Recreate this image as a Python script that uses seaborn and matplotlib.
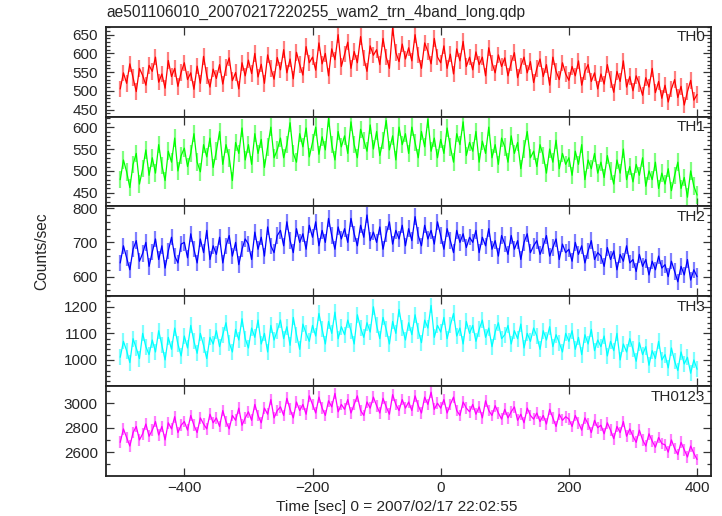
import numpy as np
import matplotlib
matplotlib.use("Agg")
import matplotlib.pyplot as plt
import seaborn as sns
from matplotlib.ticker import MultipleLocator

# Light curve data, 5 s bins from -500 s to 400 s
TIME = np.arange(-500, 401, 5)

TH0 = [
    505, 548, 520, 572, 535, 498, 560, 541, 515, 568,
    552, 590, 523, 545, 507, 581, 538, 560, 512, 549,
    575, 530, 548, 504, 566, 520, 592, 541, 510, 558,
    533, 570, 518, 562, 588, 527, 549, 505, 575, 540,
    582, 546, 600, 537, 571, 520, 596, 560, 531, 589,
    556, 610, 548, 585, 532, 603, 570, 542, 618, 575,
    590, 555, 628, 572, 600, 540, 612, 583, 650, 565,
    598, 630, 560, 605, 575, 645, 588, 552, 620, 595,
    610, 570, 640, 590, 560, 668, 602, 578, 625, 585,
    615, 580, 650, 595, 560, 628, 605, 572, 640, 590,
    575, 620, 560, 598, 545, 612, 580, 632, 565, 590,
    556, 604, 570, 590, 540, 615, 575, 548, 596, 565,
    588, 540, 575, 602, 535, 566, 590, 548, 578, 522,
    560, 585, 538, 570, 515, 590, 552, 530, 575, 545,
    528, 565, 540, 580, 515, 552, 570, 525, 548, 505,
    545, 518, 570, 530, 496, 552, 525, 580, 510, 538,
    500, 540, 518, 488, 535, 510, 560, 495, 525, 480,
    515, 470, 505, 530, 482, 512, 462, 498, 528, 475,
    490,
]

TH1 = [
    480, 525, 498, 462, 515, 540, 470, 505, 548, 490,
    530, 495, 560, 512, 478, 545, 520, 575, 500, 535,
    552, 510, 540, 585, 520, 498, 560, 532, 575, 508,
    545, 590, 515, 560, 530, 478, 565, 540, 598, 525,
    560, 515, 585, 540, 572, 508, 555, 600, 530, 548,
    575, 530, 560, 610, 540, 520, 585, 555, 598, 532,
    565, 600, 538, 578, 548, 620, 560, 525, 590, 555,
    580, 540, 612, 560, 530, 595, 570, 545, 605, 550,
    590, 535, 570, 615, 548, 580, 525, 600, 560, 585,
    540, 600, 565, 530, 590, 555, 618, 545, 575, 530,
    572, 540, 598, 555, 520, 585, 560, 612, 535, 565,
    545, 590, 520, 568, 540, 600, 530, 560, 515, 575,
    555, 520, 580, 540, 565, 505, 550, 590, 530, 545,
    510, 560, 535, 495, 550, 520, 570, 505, 540, 515,
    530, 490, 545, 515, 560, 480, 525, 505, 540, 495,
    520, 485, 535, 500, 470, 525, 495, 550, 480, 510,
    475, 515, 490, 530, 465, 500, 480, 520, 460, 495,
    470, 505, 455, 490, 520, 460, 485, 440, 500, 465,
    445,
]

TH2 = [
    640, 690, 655, 620, 680, 705, 645, 668, 700, 630,
    672, 710, 650, 690, 625, 675, 715, 660, 640, 695,
    700, 655, 725, 680, 640, 710, 670, 735, 650, 690,
    665, 715, 640, 690, 720, 660, 700, 635, 680, 710,
    695, 650, 730, 680, 715, 660, 745, 690, 670, 720,
    735, 690, 760, 705, 670, 740, 700, 725, 680, 750,
    715, 760, 690, 735, 700, 770, 720, 680, 745, 710,
    740, 700, 770, 725, 690, 750, 715, 780, 705, 730,
    700, 745, 680, 725, 760, 695, 735, 710, 750, 690,
    740, 705, 775, 720, 690, 750, 710, 735, 695, 760,
    720, 680, 740, 705, 670, 735, 700, 725, 685, 715,
    700, 735, 670, 715, 690, 740, 680, 705, 660, 720,
    695, 665, 720, 680, 705, 650, 700, 725, 670, 690,
    705, 665, 690, 720, 660, 685, 710, 650, 695, 670,
    680, 645, 700, 665, 690, 640, 675, 705, 650, 670,
    660, 630, 685, 650, 675, 620, 665, 645, 690, 640,
    650, 615, 665, 630, 650, 605, 645, 620, 660, 625,
    635, 600, 645, 615, 585, 630, 605, 650, 590, 620,
    600,
]

TH3 = [
    1010, 1070, 1035, 990, 1080, 1045, 1005, 1100, 1050, 1020,
    1075, 1030, 1110, 1055, 1000, 1085, 1040, 1120, 1060, 1015,
    1090, 1045, 1130, 1070, 1025, 1100, 1055, 1005, 1085, 1060,
    1110, 1050, 1095, 1140, 1065, 1030, 1115, 1075, 1155, 1080,
    1045, 1120, 1085, 1150, 1060, 1100, 1030, 1130, 1075, 1110,
    1150, 1080, 1125, 1055, 1160, 1095, 1040, 1135, 1100, 1070,
    1130, 1090, 1175, 1115, 1060, 1145, 1100, 1180, 1080, 1125,
    1095, 1150, 1110, 1060, 1170, 1120, 1085, 1140, 1105, 1200,
    1130, 1080, 1160, 1115, 1060, 1145, 1100, 1190, 1120, 1075,
    1140, 1095, 1170, 1110, 1065, 1150, 1120, 1205, 1085, 1130,
    1105, 1160, 1080, 1130, 1175, 1090, 1120, 1060, 1145, 1100,
    1130, 1070, 1115, 1150, 1085, 1120, 1050, 1105, 1140, 1080,
    1095, 1130, 1060, 1110, 1080, 1135, 1045, 1100, 1070, 1120,
    1090, 1040, 1110, 1075, 1125, 1050, 1095, 1065, 1030, 1100,
    1070, 1110, 1040, 1085, 1020, 1095, 1060, 1115, 1035, 1075,
    1050, 1090, 1015, 1070, 1035, 1100, 1000, 1060, 1030, 1080,
    1040, 995, 1065, 1020, 1050, 980, 1035, 1005, 1070, 1000,
    1020, 970, 1045, 995, 960, 1030, 985, 1010, 950, 1000,
    965,
]

TH0123 = [
    2680, 2790, 2720, 2650, 2760, 2810, 2700, 2750, 2830, 2730,
    2780, 2850, 2740, 2810, 2700, 2840, 2790, 2890, 2760, 2820,
    2850, 2780, 2900, 2820, 2760, 2880, 2830, 2790, 2910, 2840,
    2880, 2810, 2940, 2850, 2790, 2900, 2860, 2960, 2820, 2880,
    2930, 2860, 2990, 2900, 2840, 2960, 2910, 3030, 2880, 2940,
    2970, 2900, 3040, 2950, 2880, 3010, 2940, 2990, 2910, 3060,
    2990, 2920, 3050, 2960, 2900, 3020, 2970, 3080, 2930, 2990,
    2950, 3030, 2920, 2990, 3060, 2940, 2900, 3010, 2960, 3050,
    2980, 2920, 3040, 2970, 2910, 3070, 2990, 2940, 3030, 2960,
    3010, 2940, 3060, 2980, 2920, 3050, 2990, 3090, 2950, 3000,
    2960, 3030, 2920, 2990, 3050, 2940, 2900, 3010, 2960, 2930,
    2990, 2910, 2970, 2880, 3020, 2940, 2900, 2980, 2920, 2870,
    2950, 2880, 2930, 2970, 2860, 2910, 2840, 2960, 2900, 2870,
    2920, 2850, 2900, 2830, 2950, 2880, 2810, 2910, 2860, 2890,
    2870, 2810, 2900, 2840, 2780, 2880, 2830, 2760, 2860, 2800,
    2820, 2750, 2840, 2780, 2710, 2810, 2760, 2850, 2730, 2790,
    2730, 2680, 2780, 2700, 2650, 2750, 2690, 2640, 2720, 2670,
    2660, 2600, 2700, 2630, 2580, 2680, 2620, 2560, 2650, 2590,
    2540,
]

BANDS = ["TH0", "TH1", "TH2", "TH3", "TH0123"]
SERIES = [TH0, TH1, TH2, TH3, TH0123]
ERRORS = [22, 20, 24, 30, 48]  # typical 1-sigma error per bin
COLORS = ["#ff0000", "#00ff00", "#0000ff", "#00ffff", "#ff00ff"]
YLIMS = [(431, 671), (419, 624), (543, 805), (902, 1240), (2407, 3141)]
YMAJOR = [50, 50, 100, 100, 200]
YMINOR = [10, 10, 20, 20, 100]

sns.set_style("ticks")
plt.rcParams["font.family"] = ["Liberation Sans", "DejaVu Sans"]

fig, axes = plt.subplots(5, 1, figsize=(7.22, 5.16), dpi=100, sharex=True)
fig.subplots_adjust(left=0.147, right=0.985, top=0.948, bottom=0.078, hspace=0)

for ax, name, vals, err, col, ylim, maj, mnr in zip(
        axes, BANDS, SERIES, ERRORS, COLORS, YLIMS, YMAJOR, YMINOR):
    vals = np.asarray(vals)
    ax.errorbar(TIME, vals, yerr=err, fmt="none", ecolor=col,
                elinewidth=1.6, alpha=0.5)
    sns.lineplot(x=TIME, y=vals, ax=ax, color=col, linewidth=0.9)
    ax.set_xlim(-522, 422)
    ax.set_ylim(*ylim)
    ax.yaxis.set_major_locator(MultipleLocator(maj))
    ax.yaxis.set_minor_locator(MultipleLocator(mnr))
    ax.xaxis.set_major_locator(MultipleLocator(200))
    ax.tick_params(which="both", direction="in", top=True, right=True,
                   labelsize=11, width=0.9, color="#333333")
    ax.tick_params(axis="y", pad=6)
    ax.tick_params(which="major", length=6)
    ax.tick_params(which="minor", length=3)
    ax.tick_params(axis="x", which="minor", length=0)
    for sp in ax.spines.values():
        sp.set_linewidth(1.3)
        sp.set_color("#222222")
    ax.set_ylabel("")
    ax.text(0.99, 0.96, name, transform=ax.transAxes, ha="right", va="top",
            fontsize=11)

axes[-1].set_xlabel("")
axes[-1].tick_params(axis="x", labelsize=11, pad=4)

fig.text(0.147, 1 - 12 / 516, "ae501106010_20070217220255_wam2_trn_4band_long.qdp",
         ha="left", va="center", fontsize=11.2)
fig.text(42 / 722, 0.513, "Counts/sec", rotation=90, ha="center", va="center",
         fontsize=11.2)
fig.text(397 / 722, 1 - 507 / 516, "Time [sec] 0 = 2007/02/17 22:02:55",
         ha="center", va="center", fontsize=11.1)

fig.savefig("out.png", dpi=100)
